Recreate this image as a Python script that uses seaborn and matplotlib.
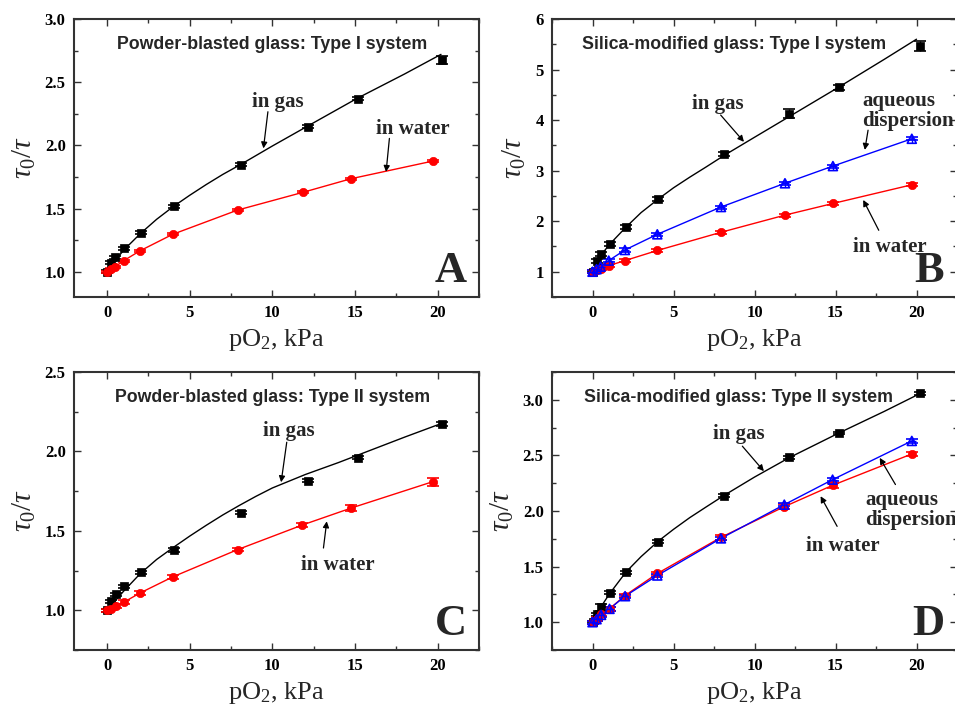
import matplotlib
matplotlib.use("Agg")
import matplotlib.pyplot as plt
import seaborn as sns
from matplotlib.ticker import MultipleLocator

# ---------------- data ----------------
# Panel A: powder-blasted glass, Type I
a_gas_x = [0, 0.26, 0.5, 1.05, 2.03, 4.05, 8.1, 12.17, 15.2, 20.26]
a_gas_y = [1.0, 1.071, 1.116, 1.185, 1.309, 1.517, 1.847, 2.148, 2.369, 2.675]
a_gas_e = [0.01, 0.012, 0.012, 0.012, 0.012, 0.012, 0.012, 0.012, 0.012, 0.03]
a_gasfit_x = [0, 0.25, 0.5, 1, 2, 3, 4, 5, 6, 7, 8.1, 10, 12.1, 15.1, 18, 20.2]
a_gasfit_y = [1.0, 1.05, 1.09, 1.17, 1.30, 1.415, 1.515, 1.605, 1.69, 1.77, 1.85, 1.995, 2.15, 2.37, 2.565, 2.72]
a_wat_x = [0, 0.25, 0.5, 1, 2, 3.97, 7.9, 11.84, 14.76, 19.72]
a_wat_y = [1.0, 1.02, 1.04, 1.087, 1.166, 1.296, 1.488, 1.628, 1.736, 1.876]
a_wat_e = [0.008] * 10

# Panel B: silica-modified glass, Type I
b_gas_x = [0, 0.25, 0.53, 1.05, 2.06, 4.07, 8.12, 12.15, 15.19, 20.23]
b_gas_y = [1.0, 1.22, 1.35, 1.55, 1.89, 2.44, 3.33, 4.13, 4.65, 5.47]
b_gas_e = [0.02, 0.04, 0.04, 0.04, 0.04, 0.04, 0.04, 0.08, 0.05, 0.1]
b_gasfit_x = [0, 0.25, 0.53, 1.05, 2.06, 3, 4.07, 5, 6, 7, 8.12, 10, 12.15, 15.19, 18, 20.0]
b_gasfit_y = [1.0, 1.17, 1.33, 1.54, 1.88, 2.17, 2.44, 2.66, 2.87, 3.07, 3.3, 3.66, 4.07, 4.65, 5.2, 5.6]
b_aq_x = [0, 0.25, 0.5, 1, 2, 4, 7.93, 11.88, 14.84, 19.71]
b_aq_y = [1.0, 1.05, 1.1, 1.22, 1.43, 1.74, 2.28, 2.75, 3.09, 3.63]
b_aq_e = [0.03] * 10
b_wat_x = [0, 0.25, 0.5, 1, 2, 4, 7.93, 11.88, 14.84, 19.71]
b_wat_y = [1.0, 1.03, 1.06, 1.12, 1.22, 1.42, 1.78, 2.12, 2.35, 2.72]
b_wat_e = [0.03] * 10

# Panel C: powder-blasted glass, Type II
c_gas_x = [0, 0.26, 0.52, 1.05, 2.05, 4.05, 8.1, 12.17, 15.2, 20.26]
c_gas_y = [1.0, 1.057, 1.10, 1.151, 1.239, 1.38, 1.615, 1.816, 1.961, 2.173]
c_gas_e = [0.01] * 10
c_gasfit_x = [0, 0.5, 1, 2, 3, 4, 5, 6, 7, 8, 9, 10, 12, 14, 16, 18, 20.2]
c_gasfit_y = [1.0, 1.06, 1.12, 1.23, 1.32, 1.395, 1.467, 1.535, 1.60, 1.66, 1.717, 1.77, 1.855, 1.93, 2.01, 2.09, 2.175]
c_wat_x = [0, 0.26, 0.52, 1.03, 2.0, 3.97, 7.9, 11.82, 14.78, 19.72]
c_wat_y = [1.0, 1.01, 1.027, 1.052, 1.109, 1.21, 1.382, 1.537, 1.644, 1.81]
c_wat_e = [0.01, 0.01, 0.01, 0.01, 0.01, 0.01, 0.01, 0.015, 0.02, 0.025]

# Panel D: silica-modified glass, Type II
d_gas_x = [0, 0.25, 0.53, 1.05, 2.06, 4.07, 8.12, 12.15, 15.19, 20.23]
d_gas_y = [1.0, 1.072, 1.135, 1.267, 1.447, 1.724, 2.138, 2.483, 2.7, 3.057]
d_gas_e = [0.01, 0.015, 0.03, 0.015, 0.015, 0.015, 0.015, 0.015, 0.012, 0.012]
d_gasfit_x = [0, 0.25, 0.53, 1.05, 2.06, 3, 4.07, 5, 6, 7, 8.12, 10, 12.15, 15.19, 18, 20.23]
d_gasfit_y = [1.0, 1.07, 1.14, 1.255, 1.45, 1.59, 1.73, 1.835, 1.94, 2.035, 2.14, 2.305, 2.48, 2.7, 2.895, 3.057]
d_aq_x = [0, 0.25, 0.53, 1.05, 2.01, 4.0, 7.93, 11.84, 14.82, 19.71]
d_aq_y = [1.0, 1.027, 1.066, 1.12, 1.234, 1.42, 1.754, 2.057, 2.282, 2.63]
d_aq_e = [0.015] * 10
d_wat_x = [0, 0.25, 0.53, 1.05, 2.01, 4.0, 7.93, 11.84, 14.82, 19.71]
d_wat_y = [1.0, 1.03, 1.07, 1.12, 1.24, 1.438, 1.763, 2.039, 2.231, 2.513]
d_wat_e = [0.015, 0.015, 0.015, 0.015, 0.015, 0.015, 0.02, 0.025, 0.02, 0.015]

titles = ["Powder-blasted glass: Type I system",
          "Silica-modified glass: Type I system",
          "Powder-blasted glass: Type II system",
          "Silica-modified glass: Type II system"]
letters = ["A", "B", "C", "D"]

# ---------------- style ----------------
sns.set_theme(style="ticks")
plt.rcParams["font.family"] = ["Liberation Serif", "DejaVu Serif"]
plt.rcParams["mathtext.fontset"] = "custom"
plt.rcParams["mathtext.rm"] = "Liberation Serif"
plt.rcParams["mathtext.it"] = "Liberation Serif:italic"
plt.rcParams["mathtext.bf"] = "Liberation Serif:bold"

fig = plt.figure(figsize=(9.55, 7.12), dpi=100)
W = 405 / 955
H = 278 / 712
axA = fig.add_axes([74 / 955, 1 - 297 / 712, W, H])
axB = fig.add_axes([552 / 955, 1 - 297 / 712, W, H])
axC = fig.add_axes([74 / 955, 1 - 650 / 712, W, H])
axD = fig.add_axes([552 / 955, 1 - 650 / 712, W, H])

BLUE = "#0000ff"
RED = "#ff0000"


def draw_series(ax, x, y, e, color, marker, fitx=None, fity=None, open_marker=False, ms=36):
    lx, ly = (fitx, fity) if fitx is not None else (x, y)
    sns.lineplot(x=lx, y=ly, ax=ax, color=color, lw=1.0, estimator=None, sort=True)
    ax.errorbar(x, y, yerr=e, fmt="none", ecolor=color, elinewidth=1.0, capsize=4, capthick=1.2)
    if open_marker:
        sns.scatterplot(x=x, y=y, ax=ax, marker=marker, s=ms, facecolor="none",
                        edgecolor=color, linewidth=1.2, zorder=5)
        sns.scatterplot(x=x, y=y, ax=ax, marker="+", s=ms * 0.8, color=color,
                        linewidth=1.0, zorder=5)
    else:
        sns.scatterplot(x=x, y=y, ax=ax, marker=marker, s=ms, color=color,
                        edgecolor=color, linewidth=0.5, zorder=5)


def style_axes(ax, xlim, ylim, ymaj, ymin, yfmt):
    ax.set_xlim(*xlim)
    ax.set_ylim(*ylim)
    ax.xaxis.set_major_locator(MultipleLocator(5))
    ax.xaxis.set_minor_locator(MultipleLocator(2.5))
    ax.yaxis.set_major_locator(MultipleLocator(ymaj))
    ax.yaxis.set_minor_locator(MultipleLocator(ymin))
    ax.yaxis.set_major_formatter(plt.FormatStrFormatter(yfmt))
    for s in ax.spines.values():
        s.set_visible(True)
        s.set_linewidth(1.5)
        s.set_color("#333333")
    ax.tick_params(which="both", direction="in", top=True, right=True,
                   colors="#333333", labelcolor="black", width=1.0)
    ax.tick_params(which="major", length=5, labelsize=12, pad=6)
    ax.tick_params(which="minor", length=2.8)
    for lab in ax.get_xticklabels() + ax.get_yticklabels():
        lab.set_fontweight("bold")
    ax.set_xlabel(r"pO$_2$, kPa", fontsize=19, labelpad=4)
    ax.set_ylabel(r"$\tau_0/\tau$", fontsize=21, labelpad=5)


def label(ax, x, y, text, ha="center"):
    ax.text(x, y, text, ha=ha, va="center", fontsize=15, fontweight="bold",
            linespacing=1.0, clip_on=False)


def arrow(ax, tail, head):
    ax.annotate("", xy=head, xytext=tail,
                arrowprops=dict(arrowstyle="-|>", color="black", lw=0.9,
                                mutation_scale=9, shrinkA=0, shrinkB=0))


# Panel A
draw_series(axA, a_gas_x, a_gas_y, a_gas_e, "black", "s", a_gasfit_x, a_gasfit_y)
draw_series(axA, a_wat_x, a_wat_y, a_wat_e, RED, "o")
style_axes(axA, (-2, 22.5), (0.8, 3.0), 0.5, 0.25, "%.1f")
label(axA, 10.35, 2.34, "in gas")
arrow(axA, (9.73, 2.266), (9.46, 1.976))
label(axA, 18.48, 2.13, "in water")
arrow(axA, (17.08, 2.055), (16.88, 1.79))

# Panel B
draw_series(axB, b_gas_x, b_gas_y, b_gas_e, "black", "s", b_gasfit_x, b_gasfit_y)
draw_series(axB, b_wat_x, b_wat_y, b_wat_e, RED, "o")
draw_series(axB, b_aq_x, b_aq_y, b_aq_e, BLUE, "^", open_marker=True, ms=42)
style_axes(axB, (-2.5, 22.5), (0.5, 6.0), 1, 0.5, "%d")
label(axB, 7.76, 4.32, "in gas")
arrow(axB, (7.91, 4.10), (9.35, 3.57))
label(axB, 16.65, 4.185, "aqueous\ndispersion", ha="left")
arrow(axB, (17.01, 3.80), (16.81, 3.41))
label(axB, 18.33, 1.49, "in water")
arrow(axB, (17.67, 1.82), (16.71, 2.42))

# Panel C
draw_series(axC, c_gas_x, c_gas_y, c_gas_e, "black", "s", c_gasfit_x, c_gasfit_y)
draw_series(axC, c_wat_x, c_wat_y, c_wat_e, RED, "o")
style_axes(axC, (-2, 22.5), (0.75, 2.5), 0.5, 0.25, "%.1f")
label(axC, 11.02, 2.131, "in gas")
arrow(axC, (10.87, 2.058), (10.53, 1.806))
label(axC, 13.95, 1.283, "in water")
arrow(axC, (13.09, 1.392), (13.29, 1.56))

# Panel D
draw_series(axD, d_gas_x, d_gas_y, d_gas_e, "black", "s", d_gasfit_x, d_gasfit_y)
draw_series(axD, d_wat_x, d_wat_y, d_wat_e, RED, "o")
draw_series(axD, d_aq_x, d_aq_y, d_aq_e, BLUE, "^", open_marker=True, ms=42)
style_axes(axD, (-2.5, 22.5), (0.75, 3.25), 0.5, 0.25, "%.1f")
label(axD, 9.04, 2.688, "in gas")
arrow(axD, (9.25, 2.583), (10.58, 2.358))
label(axD, 16.85, 2.01, "aqueous\ndispersion", ha="left")
arrow(axD, (18.7, 2.238), (17.73, 2.478))
label(axD, 15.46, 1.682, "in water")
arrow(axD, (15.1, 1.862), (14.08, 2.133))

# Titles and panel letters
title_pos = [(0.49, 0.91), (0.45, 0.91), (0.49, 0.91), (0.46, 0.91)]
for ax, t, letter, (tx, ty) in zip([axA, axB, axC, axD], titles, letters, title_pos):
    ax.text(tx, ty, t, transform=ax.transAxes, ha="center", va="center",
            fontsize=12.8, fontweight="bold", family=["Liberation Sans", "DejaVu Sans"])
    ax.text(0.93, 0.055, letter, transform=ax.transAxes, ha="center", va="baseline",
            fontsize=32, fontweight="bold")

fig.savefig("out.png", dpi=100)
